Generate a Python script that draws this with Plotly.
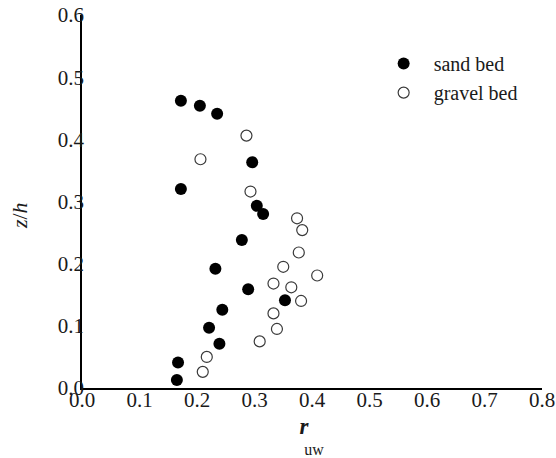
import plotly.graph_objects as go

sand_x = [0.172, 0.205, 0.235, 0.296, 0.172, 0.304, 0.315, 0.278, 0.232, 0.289, 0.353, 0.244, 0.221, 0.239, 0.167, 0.165]
sand_y = [0.462, 0.454, 0.441, 0.363, 0.320, 0.293, 0.280, 0.238, 0.192, 0.159, 0.141, 0.126, 0.097, 0.071, 0.041, 0.013]

gravel_x = [0.286, 0.206, 0.293, 0.374, 0.383, 0.377, 0.350, 0.409, 0.333, 0.364, 0.381, 0.333, 0.339, 0.309, 0.217, 0.210]
gravel_y = [0.406, 0.368, 0.316, 0.273, 0.254, 0.218, 0.195, 0.181, 0.168, 0.162, 0.140, 0.120, 0.095, 0.075, 0.050, 0.026]

x_ticks = [0.0, 0.1, 0.2, 0.3, 0.4, 0.5, 0.6, 0.7, 0.8]
y_ticks = [0.0, 0.1, 0.2, 0.3, 0.4, 0.5, 0.6]

FONT = "Liberation Serif, Times New Roman, serif"
TXT = "#1a1a1a"

fig = go.Figure()
fig.add_trace(go.Scatter(
    x=sand_x, y=sand_y, mode="markers", name="sand bed",
    marker=dict(symbol="circle", size=12, color="black", line=dict(width=0)),
))
fig.add_trace(go.Scatter(
    x=gravel_x, y=gravel_y, mode="markers", name="gravel bed",
    marker=dict(symbol="circle", size=11, color="white", line=dict(width=1.2, color="#3a3a3a")),
))

fig.update_layout(
    width=556, height=458,
    margin=dict(l=82, r=14, t=15, b=70),
    paper_bgcolor="white", plot_bgcolor="white",
    font=dict(family=FONT, size=20, color=TXT),
    showlegend=True,
    legend=dict(x=0.634, y=0.922, xanchor="left", yanchor="top",
                bgcolor="rgba(0,0,0,0)", font=dict(family=FONT, size=20, color=TXT),
                itemwidth=50, tracegroupgap=0),
    xaxis=dict(
        range=[0, 0.8], tickvals=x_ticks, ticktext=[f"{v:.1f}" for v in x_ticks],
        showgrid=False, zeroline=False, showline=True, linecolor="black", linewidth=1.5,
        ticks="", automargin=False, ticklabelstandoff=-8,
        tickfont=dict(family=FONT, size=21, color=TXT),
        title=dict(text="<span style='font-size:23px'><i><b>r</b></i></span>&nbsp;&nbsp;&nbsp;&nbsp;<br>"
                        "<span style='font-size:16px'>&nbsp;uw</span>",
                   font=dict(family=FONT, size=16, color=TXT), standoff=19),
    ),
    yaxis=dict(
        range=[0, 0.6], tickvals=y_ticks, ticktext=[f"{v:.1f}" for v in y_ticks],
        showgrid=False, zeroline=False, showline=True, linecolor="black", linewidth=1.5,
        ticks="", automargin=False, ticklabelstandoff=-8,
        tickfont=dict(family=FONT, size=21, color=TXT),
        title=dict(text="<i>z</i>/<i>h</i>&nbsp;&nbsp;&nbsp;&nbsp;&nbsp;",
                   font=dict(family=FONT, size=22, color=TXT), standoff=24),
    ),
)

fig.write_html("out.html")
